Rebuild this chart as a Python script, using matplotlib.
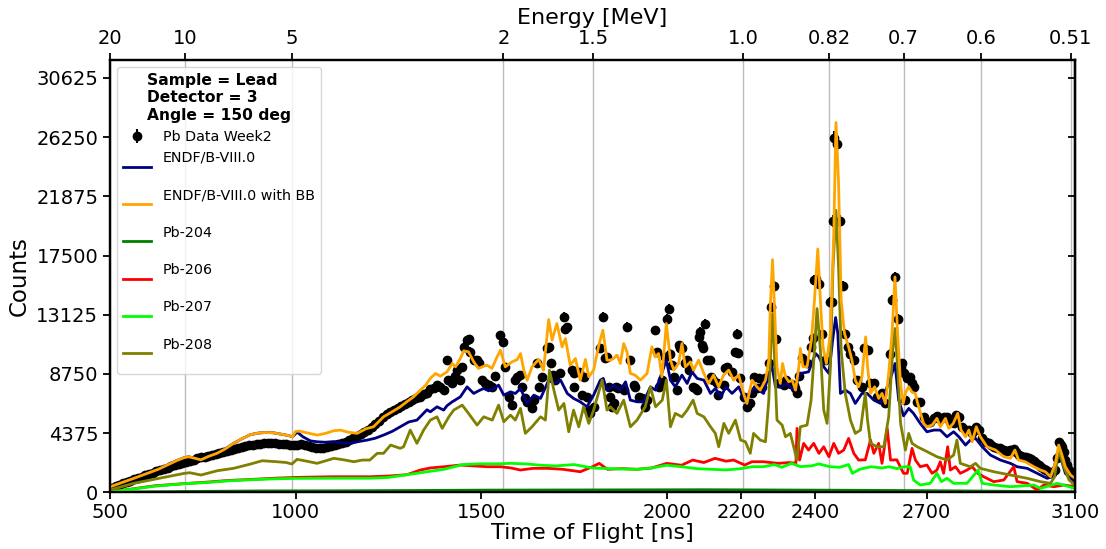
import numpy as np
import matplotlib
matplotlib.use("Agg")
import matplotlib.pyplot as plt

# ---------------- data ----------------
# measured data points (time of flight [ns], counts)
data_tof = [505, 515, 525, 535, 545, 555, 565, 575, 585, 595, 605, 615, 625, 635, 645, 655, 665, 675,
            685, 695, 705, 715, 725, 735, 745, 755, 765, 775, 785, 795, 805, 815, 825, 835, 845, 855,
            865, 875, 885, 895, 905, 915, 925, 935, 945, 955, 965, 975, 985, 995, 1005, 1015, 1025,
            1035, 1045, 1055, 1065, 1075, 1085, 1095, 1105, 1115, 1125, 1135, 1145, 1155, 1165, 1175,
            1185, 1195, 1205, 1215, 1225, 1235, 1245, 1255, 1265, 1275, 1285, 1295, 1305, 1315, 1325,
            1336, 1345, 1354, 1363, 1372, 1381, 1390, 1399, 1408, 1412, 1421, 1430, 1435, 1444, 1449,
            1453, 1462, 1466, 1471, 1480, 1489, 1493, 1502, 1511, 1520, 1529, 1538, 1552, 1558, 1565,
            1574, 1583, 1592, 1597, 1606, 1611, 1619, 1624, 1637, 1642, 1651, 1655, 1664, 1677, 1682,
            1689, 1693, 1700, 1713, 1722, 1726, 1731, 1745, 1749, 1751, 1763, 1772, 1776, 1785, 1790,
            1794, 1803, 1821, 1828, 1835, 1839, 1844, 1848, 1853, 1857, 1862, 1868, 1884, 1893, 1902,
            1911, 1915, 1924, 1933, 1942, 1947, 1969, 1974, 1978, 1987, 1996, 2001, 2005, 2010, 2014,
            2019, 2028, 2032, 2037, 2041, 2050, 2055, 2059, 2072, 2077, 2081, 2086, 2090, 2095, 2099,
            2104, 2108, 2116, 2120, 2126, 2135, 2138, 2153, 2158, 2162, 2176, 2185, 2189, 2193, 2198,
            2207, 2216, 2225, 2230, 2234, 2243, 2248, 2257, 2266, 2275, 2281, 2288, 2295, 2302, 2306,
            2315, 2320, 2329, 2335, 2342, 2346, 2351, 2356, 2365, 2378, 2389, 2394, 2398, 2401, 2411,
            2418, 2427, 2439, 2444, 2448, 2452, 2458, 2466, 2476, 2480, 2488, 2495, 2504, 2513, 2526,
            2531, 2543, 2549, 2558, 2567, 2580, 2589, 2601, 2607, 2616, 2622, 2630, 2634, 2638, 2643,
            2647, 2655, 2661, 2666, 2674, 2683, 2692, 2701, 2710, 2719, 2728, 2737, 2746, 2755, 2764,
            2773, 2780, 2787, 2796, 2805, 2814, 2823, 2832, 2841, 2850, 2859, 2868, 2875, 2881, 2890,
            2899, 2908, 2917, 2926, 2935, 2942, 2948, 2955, 2962, 2968, 2975, 2982, 2989, 2995, 3002,
            3009, 3016, 3022, 3029, 3038, 3047, 3052, 3056, 3061, 3065, 3070, 3074, 3079, 3083, 3088,
            3092, 3097]
data_cnt = [350, 450, 560, 660, 760, 860, 960, 1060, 1160, 1260, 1360, 1460, 1560, 1650, 1740, 1830,
            1920, 2010, 2090, 2170, 2250, 2330, 2420, 2500, 2580, 2640, 2700, 2760, 2820, 2880, 2950,
            3020, 3100, 3180, 3260, 3330, 3400, 3460, 3520, 3560, 3600, 3630, 3650, 3640, 3620, 3600,
            3570, 3540, 3500, 3480, 3520, 3560, 3520, 3450, 3380, 3300, 3260, 3300, 3360, 3420, 3480,
            3560, 3640, 3750, 3880, 4000, 4130, 4280, 4430, 4600, 4800, 5050, 5300, 5550, 5750, 5950,
            6100, 6250, 6400, 6550, 6700, 6850, 6950,
            7056, 7300, 7307, 7600, 7676, 7900, 7794, 7551, 9767, 8300, 8045, 8600, 9027, 8289, 9274,
            10747, 11241, 11300, 10400, 9767, 9767, 9521, 8289, 8045, 7920, 7794, 8600, 11610, 11118,
            9274, 7056, 6444, 8289, 8532, 8659, 7800, 6938, 6687, 6200, 6813, 9521, 7794, 8532, 10629,
            10747, 9521, 8659, 8289, 8783, 12962, 12105, 12200, 9027, 8783, 7794, 8901, 7182, 8532,
            7056, 6075, 5831, 6318, 10629, 12962, 9890, 10009, 7794, 7056, 6318, 6569, 7794, 7700,
            7551, 12225, 9767, 7920, 7794, 7056, 6938, 6318, 6813, 11979, 10380, 7794, 8289, 10009,
            12838, 13581, 10257, 9398, 8532, 7551, 10872, 10700, 10629, 9521, 9767, 9027, 7794, 7676,
            7551, 11486, 11855, 10872, 10700, 12474, 9767, 9767, 8532, 8289, 8045, 7182, 7920, 9152,
            9274, 8901, 10380, 11736, 10300, 8414, 7056, 6318, 6569, 7307, 8532, 7676, 8414, 7794,
            8414, 9521, 13700, 15227, 11293, 8045, 8100, 7920, 8300, 8045, 8000, 7920, 7700, 7307,
            8600, 9890, 9521, 10747, 11367, 15670, 15744, 15375, 11736, 9767, 14068, 14046, 20047,
            26203, 25759, 20047, 15279, 11736, 10747, 10257, 9767, 8289, 7794, 10629, 10503, 8045,
            8045, 7056, 7307, 6569, 10257, 14193, 15913, 12838, 9274, 9521, 8783, 6813, 8414, 8532,
            8045, 7794, 6687, 6690, 5582, 5213, 5213, 5460, 5632, 5386, 5533, 5533, 5213, 5091, 5706,
            5533, 4845, 4598, 4598, 4353, 4845, 4598, 3984, 3737, 3615, 3500, 3368, 3300, 3245, 3150,
            3073, 3120, 3172, 3000, 2753, 2650, 2600, 2581, 2520, 2434, 2300, 2187, 2050, 1843, 1750,
            1646, 1520, 1400, 1646, 2500, 3737, 3500, 3368, 3000, 2384, 2000, 1646, 1400, 1203, 1031]

# ENDF/B-VIII.0 and ENDF/B-VIII.0 with BB coincide at short flight times
tof_shared = [500, 530, 564, 600, 630, 654, 680, 700, 712, 730, 745, 765, 788, 810, 833, 855, 878,
              900, 920, 940, 960, 980, 992]
cnt_shared = [400, 700, 1030, 1400, 1700, 2015, 2350, 2560, 2630, 2500, 2400, 2650, 2878, 3200, 3617,
              3950, 4260, 4380, 4420, 4400, 4300, 4200, 4104]

# ENDF/B-VIII.0 with BB (orange), beyond the shared part
tof_bb = [1000, 1010, 1030, 1058, 1080, 1103, 1121, 1140, 1166, 1190, 1210, 1237, 1260, 1282, 1300,
          1318, 1336, 1350, 1363, 1377, 1390, 1408, 1422, 1431, 1444, 1453, 1466, 1480, 1493, 1505,
          1516, 1529, 1541, 1552, 1565, 1583, 1597, 1606, 1615, 1624, 1637, 1655, 1668, 1682, 1691,
          1704, 1718, 1727, 1740, 1754, 1767, 1781, 1790, 1803, 1817, 1828, 1839, 1848, 1857, 1866,
          1875, 1884, 1893, 1902, 1915, 1929, 1947, 1960, 1969, 1978, 1987, 1999, 2010, 2019, 2032,
          2041, 2050, 2064, 2072, 2086, 2100, 2113, 2126, 2140, 2153, 2167, 2180, 2194, 2207, 2216,
          2230, 2243, 2252, 2266, 2275, 2279, 2285, 2291, 2297, 2306, 2312, 2320, 2329, 2338, 2347,
          2356, 2360, 2367, 2378, 2390, 2398, 2407, 2414, 2421, 2430, 2441, 2450, 2456, 2463, 2470,
          2479, 2490, 2499, 2508, 2517, 2526, 2536, 2541, 2549, 2560, 2571, 2580, 2589, 2598, 2607,
          2615, 2622, 2630, 2637, 2644, 2652, 2661, 2670, 2675, 2683, 2692, 2701, 2715, 2728, 2737,
          2751, 2760, 2772, 2784, 2793, 2805, 2814, 2823, 2834, 2845, 2863, 2886, 2908, 2926, 2938,
          2948, 2966, 2989, 3007, 3020, 3034, 3047, 3056, 3065, 3074, 3088, 3100]
cnt_bb = [4500, 4520, 4400, 4229, 4350, 4550, 4598, 4450, 4355, 4700, 4842, 5580, 5950, 6318, 6700,
          7056, 7551, 7900, 8414, 8783, 8584, 8901, 9521, 9274, 9900, 10454, 10380, 9640, 9152, 9300,
          9398, 9152, 9900, 10503, 9274, 9640, 9800, 10257, 9027, 8289, 9274, 9817, 9027, 12769, 11241,
          12474, 10747, 11367, 9398, 9891, 8289, 9817, 8532, 9027, 10872, 11979, 9767, 9767, 9891,
          10134, 9521, 10996, 10380, 8783, 8659, 8289, 8783, 10747, 10009, 10257, 8532, 12474, 9767,
          9027, 9521, 10996, 9274, 9640, 9027, 9767, 8783, 8045, 8659, 7794, 8659, 9027, 8289, 8659,
          7307, 6569, 8289, 7794, 7551, 8289, 9767, 13699, 17198, 13212, 9274, 8045, 9521, 8532, 8163,
          8289, 7551, 9274, 10629, 9274, 9274, 11241, 14193, 17981, 14193, 10747, 9521, 11736, 19117,
          27332, 22807, 14193, 11736, 10747, 9767, 8289, 7794, 8532, 11486, 9274, 7307, 7794, 6938,
          7307, 6569, 8783, 11736, 15913, 11736, 8045, 6569, 7400, 7800, 7400, 7307, 6687, 5949, 5093,
          4842, 4967, 5462, 4842, 5462, 4724, 5093, 5831, 4598, 4104, 4598, 3735, 4842, 4104, 3366,
          3122, 2628, 2510, 3122, 2384, 2259, 1890, 1646, 1521, 1151, 2140, 3491, 2753, 1890, 1277,
          1033]

# ENDF/B-VIII.0 (navy), beyond the shared part
tof_endf = [1004, 1020, 1040, 1058, 1080, 1103, 1125, 1148, 1170, 1193, 1215, 1237, 1260, 1282, 1305,
            1327, 1340, 1354, 1363, 1381, 1399, 1408, 1422, 1444, 1462, 1480, 1493, 1507, 1520, 1534,
            1547, 1561, 1579, 1592, 1606, 1624, 1642, 1660, 1682, 1696, 1714, 1732, 1749, 1767, 1785,
            1803, 1821, 1829, 1839, 1857, 1875, 1889, 1902, 1920, 1938, 1956, 1970, 1983, 1999, 2010,
            2023, 2041, 2055, 2068, 2082, 2100, 2118, 2131, 2146, 2159, 2176, 2194, 2208, 2221, 2234,
            2248, 2261, 2275, 2284, 2293, 2306, 2324, 2342, 2360, 2382, 2401, 2410, 2423, 2437, 2447,
            2455, 2461, 2468, 2481, 2495, 2508, 2526, 2540, 2558, 2576, 2594, 2607, 2615, 2625, 2638,
            2652, 2665, 2683, 2701, 2720, 2737, 2755, 2773, 2787, 2805, 2818, 2832, 2850, 2872, 2899,
            2926, 2944, 2971, 2998, 3025, 3039, 3052, 3061, 3074, 3092, 3100]
cnt_endf = [4450, 4100, 3800, 3735, 3700, 3750, 3650, 3617, 3750, 3860, 4000, 4229, 4500, 4842, 5200,
            5336, 5700, 6100, 5949, 6318, 6075, 6400, 6687, 7056, 7794, 7307, 7500, 7676, 7500, 7676,
            7920, 7182, 7426, 7300, 7676, 6569, 7182, 6938, 8289, 8045, 8289, 7307, 6938, 6687, 6318,
            7182, 8289, 8414, 7551, 7920, 7551, 8163, 6813, 6687, 6687, 7794, 7551, 8532, 9767, 8289,
            7794, 8659, 8045, 8901, 8414, 8289, 7307, 7676, 7056, 7794, 7307, 7794, 6938, 7182, 7700,
            7551, 7307, 8783, 9274, 7794, 7794, 8045, 7551, 8783, 8901, 10257, 10009, 9274, 8783, 11241,
            12917, 11736, 7307, 7551, 7307, 6569, 7307, 7307, 6813, 6569, 7794, 8783, 9521, 6813, 5650,
            6200, 5831, 5093, 4473, 4598, 4598, 4104, 4473, 4104, 3491, 3860, 3986, 3366, 2753, 2384,
            2140, 1890, 1771, 1402, 1033, 1151, 2879, 2628, 1402, 908, 785]

# Pb-204 (green)
tof_204 = [500, 700, 900, 1100, 1300, 1500, 1700, 1900, 2100, 2300, 2500, 2700, 2900, 3100]
cnt_204 = [10, 60, 100, 110, 130, 160, 170, 180, 190, 170, 150, 120, 80, 40]

# Pb-206 (red)
tof_206 = [500, 560, 620, 700, 760, 820, 880, 950, 1000, 1100, 1200, 1250, 1300, 1336, 1363, 1400,
           1444, 1480, 1516, 1552, 1580, 1606, 1640, 1680, 1720, 1767, 1800, 1818, 1840, 1880, 1920,
           1960, 2000, 2040, 2070, 2100, 2130, 2160, 2180, 2210, 2230, 2260, 2300, 2330, 2348, 2351,
           2358, 2369, 2382, 2396, 2410, 2423, 2437, 2450, 2463, 2477, 2490, 2504, 2517, 2535, 2549,
           2558, 2571, 2580, 2594, 2603, 2620, 2638, 2648, 2661, 2670, 2683, 2701, 2715, 2728, 2737,
           2746, 2757, 2764, 2778, 2791, 2809, 2823, 2838, 2854, 2881, 2908, 2935, 2944, 2971, 2998,
           3016, 3043, 3070, 3100]
cnt_206 = [30, 250, 480, 640, 750, 880, 950, 1050, 1100, 1150, 1150, 1200, 1300, 1646, 1800, 1890,
           2015, 1950, 1890, 1890, 1800, 1646, 1770, 1770, 1700, 1520, 1890, 2140, 1700, 1750, 1700,
           1800, 2140, 2000, 2384, 2200, 2510, 2300, 2384, 2015, 2259, 2259, 2140, 2200, 2150, 4724,
           2384, 3617, 3122, 3617, 2879, 3366, 2628, 3617, 2879, 3122, 3986, 2879, 2384, 2400, 3860,
           2879, 3617, 2140, 4724, 2384, 2400, 1402, 1402, 3248, 2384, 1890, 2015, 1402, 1646, 2259,
           1402, 3366, 1646, 1890, 1402, 1646, 1890, 1402, 1151, 785, 908, 1890, 785, 664, 170,
           539, 413, 539, 413]

# Pb-207 (lime)
tof_207 = [500, 560, 620, 700, 760, 820, 880, 950, 1000, 1100, 1200, 1250, 1300, 1350, 1400, 1450,
           1500, 1547, 1580, 1620, 1660, 1700, 1750, 1800, 1840, 1880, 1920, 1960, 2000, 2040, 2080,
           2120, 2160, 2200, 2230, 2260, 2290, 2310, 2336, 2360, 2390, 2410, 2440, 2466, 2490, 2500,
           2520, 2550, 2580, 2600, 2620, 2640, 2656, 2665, 2683, 2710, 2728, 2740, 2755, 2773, 2809,
           2839, 2850, 2881, 2926, 2989, 3007, 3052, 3100]
cnt_207 = [30, 230, 450, 640, 720, 850, 930, 1000, 1030, 1040, 1040, 1100, 1300, 1500, 1700, 2050,
           2107, 2107, 2140, 2100, 2000, 1950, 2050, 1800, 1750, 1720, 1700, 1800, 2000, 1890, 1750,
           1700, 1650, 1750, 1890, 1890, 2050, 1850, 2140, 1900, 1950, 2100, 1890, 1850, 2050, 1402,
           1700, 1890, 1800, 1890, 1750, 1890, 1890, 908, 539, 664, 1402, 785, 1033, 664, 664,
           1646, 664, 539, 413, 539, 290, 664, 290]

# Pb-208 (olive)
tof_208 = [500, 564, 654, 700, 715, 745, 790, 833, 880, 910, 950, 975, 990, 1004, 1030, 1058, 1103,
           1130, 1157, 1180, 1200, 1220, 1237, 1256, 1282, 1291, 1309, 1327, 1345, 1363, 1381, 1395,
           1413, 1426, 1449, 1466, 1489, 1507, 1530, 1547, 1561, 1579, 1592, 1606, 1619, 1637, 1660,
           1673, 1684, 1696, 1709, 1723, 1736, 1749, 1763, 1776, 1790, 1803, 1826, 1839, 1848, 1866,
           1884, 1902, 1920, 1942, 1956, 1970, 1988, 1999, 2010, 2023, 2041, 2055, 2071, 2082, 2100,
           2118, 2131, 2140, 2154, 2167, 2185, 2199, 2212, 2225, 2234, 2252, 2266, 2275, 2282, 2286,
           2290, 2297, 2311, 2320, 2333, 2351, 2360, 2378, 2389, 2398, 2405, 2414, 2423, 2432, 2441,
           2448, 2456, 2463, 2470, 2481, 2495, 2508, 2522, 2535, 2541, 2549, 2567, 2585, 2598, 2609,
           2615, 2622, 2630, 2643, 2652, 2661, 2675, 2702, 2728, 2755, 2773, 2782, 2791, 2818, 2832,
           2845, 2881, 2926, 2971, 3007, 3034, 3045, 3056, 3070, 3084, 3100]
cnt_208 = [170, 664, 1151, 1400, 1447, 1277, 1600, 1771, 2100, 2332, 2259, 2200, 2089, 2436, 2300,
           2140, 2510, 2400, 2259, 2384, 2384, 2879, 2879, 3491, 3248, 3366, 4598, 3617, 4598, 5336,
           5580, 4724, 5580, 6075, 6444, 5831, 4967, 5580, 5336, 6444, 5211, 5705, 5336, 6200, 4355,
           4842, 5580, 5336, 9027, 7551, 6075, 6569, 4473, 6075, 4842, 6318, 5093, 6075, 8289, 6075,
           6318, 5831, 6813, 4842, 5336, 6318, 7794, 6318, 6813, 8289, 4842, 5831, 5580, 6075, 6813,
           5831, 5580, 4842, 4355, 3366, 5093, 4355, 5336, 3860, 3735, 2879, 4355, 3860, 3735, 6813,
           11736, 13212, 10257, 5336, 4967, 4104, 4355, 2384, 4842, 4967, 6813, 10503, 13581, 10503,
           6075, 5093, 9274, 16652, 20837, 16652, 10503, 7307, 5336, 4355, 4598, 7307, 5336, 3617,
           3366, 3366, 5580, 10503, 12105, 9274, 5093, 3122, 4355, 3617, 3366, 2997, 2628, 2384,
           2753, 3860, 2140, 1890, 2140, 1771, 1521, 1277, 1033, 785, 664, 1151, 3122, 1890, 908,
           539]

# axis ticks
bottom_ticks = [500, 1000, 1500, 2000, 2200, 2400, 2700, 3100]
count_ticks = [0, 4375, 8750, 13125, 17500, 21875, 26250, 30625]
energy_labels = ["20", "10", "5", "2", "1.5", "1.0", "0.82", "0.7", "0.6", "0.51"]
energy_tof = [500, 702, 990, 1560, 1802, 2206, 2437, 2638, 2847, 3089]

legend_title = "Sample = Lead\nDetector = 3\nAngle = 150 deg"

# ---------------- figure ----------------
plt.rcParams["font.family"] = ["DejaVu Sans"]
W, H = 1106, 549
fig = plt.figure(figsize=(W / 100, H / 100), dpi=100)
ax = fig.add_axes([110 / W, 1 - 492.3 / H, 965 / W, (492.3 - 60) / H])

for t in energy_tof:
    ax.axvline(t, color="#bcbcbc", lw=1.0, zorder=0)

err = 3.0 * np.sqrt(np.array(data_cnt, dtype=float))
data_h = ax.errorbar(data_tof, data_cnt, yerr=err, fmt="o", color="black", ms=6,
                     elinewidth=1.5, capsize=0, zorder=2)

lw = 2.0
l_endf, = ax.plot(tof_shared + tof_endf, cnt_shared + cnt_endf, color="navy", lw=lw, zorder=3)
l_bb, = ax.plot(tof_shared + tof_bb, cnt_shared + cnt_bb, color="orange", lw=lw, zorder=4)
l_204, = ax.plot(tof_204, cnt_204, color="green", lw=lw, zorder=3)
l_206, = ax.plot(tof_206, cnt_206, color="red", lw=lw, zorder=3)
l_207, = ax.plot(tof_207, cnt_207, color="lime", lw=lw, zorder=3)
l_208, = ax.plot(tof_208, cnt_208, color="olive", lw=lw, zorder=3)

ax.set_xlim(500, 3100)
ax.set_ylim(0, 31950)
ax.set_xticks(bottom_ticks)
ax.set_xticklabels([str(v) for v in bottom_ticks])
ax.set_yticks(count_ticks)
ax.set_yticklabels([str(v) for v in count_ticks])
ax.tick_params(axis="both", labelsize=14, length=5, width=1.3, direction="out")
ax.tick_params(axis="x", pad=2.5)
ax.set_xlabel("Time of Flight [ns]", fontsize=16, labelpad=1)
ax.set_ylabel("Counts", fontsize=16.5)
for s in ax.spines.values():
    s.set_linewidth(1.6)

# top axis (energy)
ax_top = ax.twiny()
ax_top.set_xlim(ax.get_xlim())
ax_top.set_xticks(energy_tof)
ax_top.set_xticklabels(energy_labels)
ax_top.tick_params(axis="x", labelsize=14, length=5, width=1.3)
ax_top.set_xlabel("Energy [MeV]", fontsize=16)
for s in ax_top.spines.values():
    s.set_linewidth(1.6)

# right ticks (inward, no labels)
ax_r = ax.secondary_yaxis("right")
ax_r.set_yticks(count_ticks)
ax_r.tick_params(axis="y", direction="in", length=5, width=1.3, labelright=False)
ax_r.spines["right"].set_linewidth(1.6)

handles = [data_h, l_endf, l_bb, l_204, l_206, l_207, l_208]
labels = ["Pb Data Week2", "ENDF/B-VIII.0\n", "ENDF/B-VIII.0 with BB\n", "Pb-204\n",
          "Pb-206\n", "Pb-207\n", "Pb-208\n"]
leg = ax.legend(handles, labels, loc="upper left", fontsize=10.3, title=legend_title,
                title_fontproperties={"weight": "bold", "size": 11.2})
leg.set_zorder(10)

fig.savefig("out.png", dpi=100)
